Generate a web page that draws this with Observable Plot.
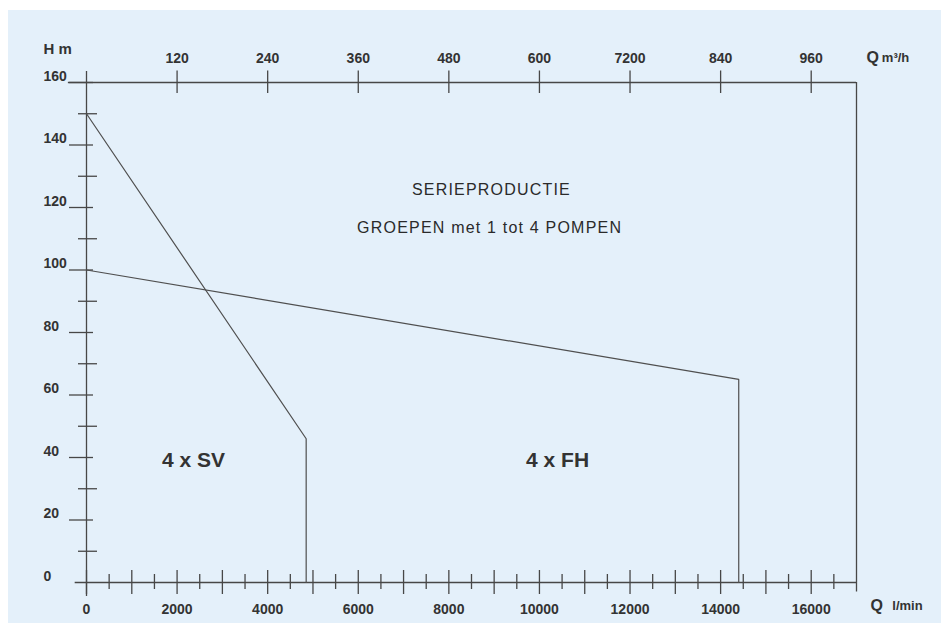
<!DOCTYPE html>
<html><head><meta charset="utf-8">
<script src="https://cdn.jsdelivr.net/npm/d3@7"></script>
<script src="https://cdn.jsdelivr.net/npm/@observablehq/plot@0.6"></script>
<style>
html,body{margin:0;padding:0;background:#fff;}
#wrap{position:relative;width:941px;height:623px;overflow:hidden;}
#bg{position:absolute;left:8px;top:10px;right:0;bottom:0;background:#e4f0fa;}
#chart{position:absolute;left:0;top:0;}
</style></head><body>
<div id="wrap"><div id="bg"></div><div id="chart"></div></div>
<script>
// Curves (Q in l/min, H in m)
const svQ = [0, 4850, 4850];
const svH = [150, 46, 0];
const fhQ = [0, 14400, 14400];
const fhH = [100, 65, 0];

// Axis ticks and labels
const bottomMajor = [0,1000,2000,3000,4000,5000,6000,7000,8000,9000,10000,11000,12000,13000,14000,15000,16000];
const bottomMinor = [500,1500,2500,3500,4500,5500,6500,7500,8500,9500,10500,11500,12500,13500,14500,15500,16500];
const bottomLabels = [0,2000,4000,6000,8000,10000,12000,14000,16000];
const topTicks = [2000,4000,6000,8000,10000,12000,14000,16000];
const topLabels = ["120","240","360","480","600","7200","840","960"];
const yMajor = [20,40,60,80,100,120,140,160];
const yMinor = [10,30,50,70,90,110,130,150];
const yLabels = [0,20,40,60,80,100,120,140,160];

const W = 941, H = 623;
const mL = 86, mR = 85, mT = 82, mB = 41;
const px = 17000 / (W - mL - mR);   // data units per pixel (x)
const py = 160 / (H - mT - mB);     // data units per pixel (y)
const ink = "#333333";
const lineInk = "#474747";
const font = "Liberation Sans, Arial, Helvetica, sans-serif";

const sv = svQ.map((q, i) => ({q, h: svH[i]}));
const fh = fhQ.map((q, i) => ({q, h: fhH[i]}));

const lbl = {fill: ink, fontWeight: "bold", fontSize: 14, fontFamily: font, stroke: null};

const chart = Plot.plot({
  width: W, height: H,
  marginLeft: mL, marginRight: mR, marginTop: mT, marginBottom: mB,
  x: {domain: [0, 17000], axis: null},
  y: {domain: [0, 160], axis: null},
  style: {background: "transparent", fontFamily: font, overflow: "visible"},
  marks: [
    // frame lines
    Plot.ruleY([0], {x1: -250, x2: 17000, stroke: lineInk, strokeWidth: 1.3}),
    Plot.ruleY([160], {x1: -400, x2: 17000, stroke: lineInk, strokeWidth: 1.3}),
    Plot.ruleX([0], {y1: -4.5, y2: 163.5, stroke: lineInk, strokeWidth: 1.3}),
    Plot.ruleX([17000], {y1: -3, y2: 160, stroke: lineInk, strokeWidth: 1.3}),
    // ticks
    Plot.ruleX(bottomMajor, {x: d => d, y1: -12 * py, y2: 12 * py, stroke: lineInk, strokeWidth: 1.3}),
    Plot.ruleX(bottomMinor, {x: d => d, y1: -7 * py, y2: 8 * py, stroke: lineInk, strokeWidth: 1.3}),
    Plot.ruleX(topTicks, {x: d => d, y1: 160 - 11 * py, y2: 160 + 11.5 * py, stroke: lineInk, strokeWidth: 1.3}),
    Plot.ruleY(yMajor, {y: d => d, x1: -17 * px, x2: 7 * px, stroke: lineInk, strokeWidth: 1.3}),
    Plot.ruleY(yMinor, {y: d => d, x1: -8 * px, x2: 11 * px, stroke: lineInk, strokeWidth: 1.3}),
    // curves
    Plot.line(sv, {x: "q", y: "h", stroke: "#4f4f4f", strokeWidth: 1.2}),
    Plot.line(fh, {x: "q", y: "h", stroke: "#4f4f4f", strokeWidth: 1.2}),
    // tick labels
    Plot.text(bottomLabels, {x: d => d, y: 0, text: d => String(d), dy: 27, ...lbl}),
    Plot.text(topTicks, {x: d => d, y: 160, text: (d, i) => topLabels[i], dy: -24, ...lbl}),
    Plot.text(yLabels, {x: -43 * px, y: d => d, text: d => String(d), textAnchor: "start", dy: -6, ...lbl}),
    // axis titles
    Plot.text(["H m"], {x: -43 * px, y: 170.7, text: d => d, textAnchor: "start", ...lbl, fontSize: 15}),
    Plot.text(["Q"], {x: 17222, y: 167.8, text: d => d, textAnchor: "start", ...lbl, fontSize: 16}),
    Plot.text(["m³/h"], {x: 17560, y: 167.8, text: d => d, textAnchor: "start", ...lbl, fontSize: 13}),
    Plot.text(["Q"], {x: 17310, y: -7.5, text: d => d, textAnchor: "start", ...lbl, fontSize: 16}),
    Plot.text(["l/min"], {x: 17790, y: -7.5, text: d => d, textAnchor: "start", ...lbl, fontSize: 13}),
    // annotations
    Plot.text(["SERIEPRODUCTIE"], {x: 8940, y: 125.5, text: d => d, fill: "#2a2a2a", fontSize: 16, fontFamily: font}),
    Plot.text(["GROEPEN met 1 tot 4 POMPEN"], {x: 8900, y: 113.6, text: d => d, fill: "#2a2a2a", fontSize: 16, fontFamily: font}),
    Plot.text(["4 x SV"], {x: 2360, y: 39, text: d => d, ...lbl, fontSize: 21}),
    Plot.text(["4 x FH"], {x: 10400, y: 39, text: d => d, ...lbl, fontSize: 21})
  ]
});

d3.select(chart).selectAll("text").filter(function () {
  const t = this.textContent;
  return t === "SERIEPRODUCTIE" || t.startsWith("GROEPEN");
}).attr("letter-spacing", "1.2px");

document.getElementById("chart").appendChild(chart);
</script>
</body></html>
